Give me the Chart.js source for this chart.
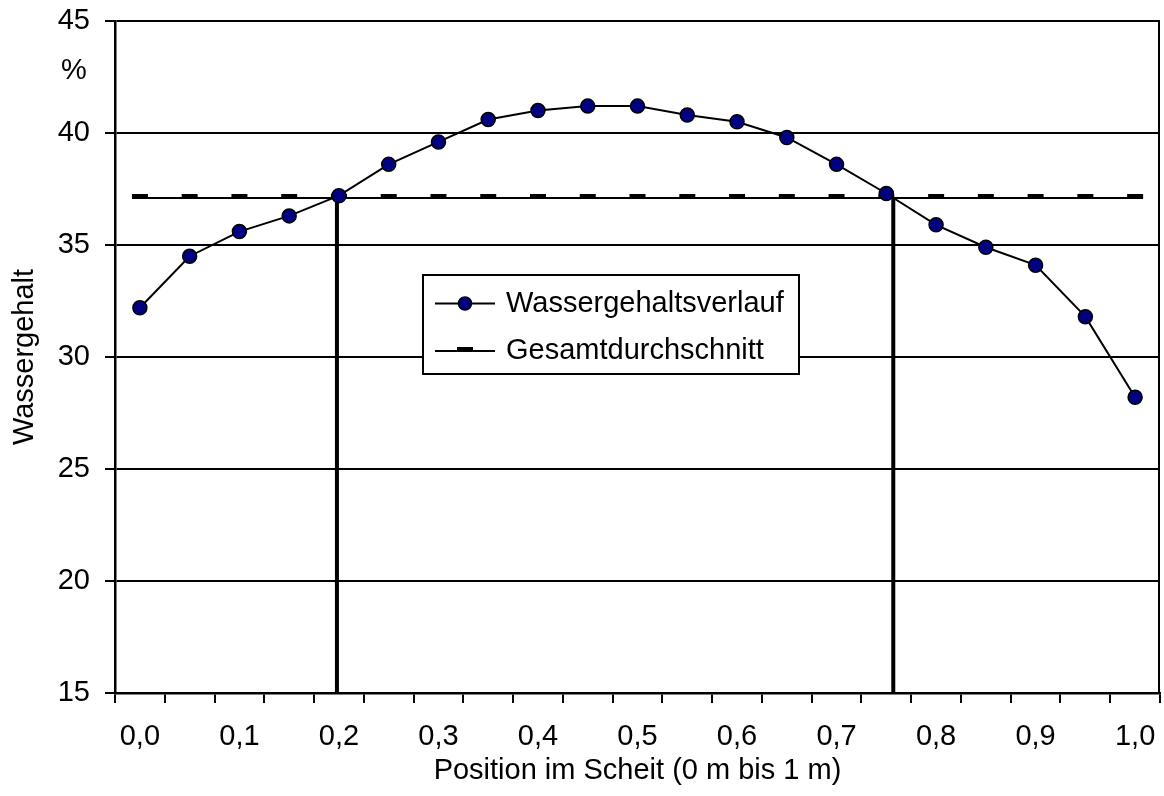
<!DOCTYPE html>
<html>
<head>
<meta charset="utf-8">
<script src="https://cdn.jsdelivr.net/npm/chart.js@4/dist/chart.umd.min.js"></script>
<style>
  html, body { margin: 0; padding: 0; background: #fff; }
  #wrap { width: 1164px; height: 796px; }
</style>
</head>
<body>
<div id="wrap"><canvas id="c" width="1164" height="796"></canvas></div>
<script>
// ---- data ----
const positions = [0, 0.05, 0.1, 0.15, 0.2, 0.25, 0.3, 0.35, 0.4, 0.45, 0.5, 0.55, 0.6, 0.65, 0.7, 0.75, 0.8, 0.85, 0.9, 0.95, 1.0];
const waterContent = [32.2, 34.5, 35.6, 36.3, 37.2, 38.6, 39.6, 40.6, 41.0, 41.2, 41.2, 40.8, 40.5, 39.8, 38.6, 37.3, 35.9, 34.9, 34.1, 31.8, 28.2];
const overallAverage = [37.1, 37.1, 37.1, 37.1, 37.1, 37.1, 37.1, 37.1, 37.1, 37.1, 37.1, 37.1, 37.1, 37.1, 37.1, 37.1, 37.1, 37.1, 37.1, 37.1, 37.1];
const crossings = [0.198, 0.757];
const xTickLabels = ['0,0', '0,1', '0,2', '0,3', '0,4', '0,5', '0,6', '0,7', '0,8', '0,9', '1,0'];
const yMin = 15, yMax = 45, yStep = 5;
const seriesLabels = ['Wassergehaltsverlauf', 'Gesamtdurchschnitt'];
const yTitle = 'Wassergehalt';
const yUnit = '%';
const xTitle = 'Position im Scheit (0 m bis 1 m)';

const FONT = 'Liberation Sans, Arial, sans-serif';
const FS = 29;

// dash-shaped marker image for the average series
const dash = document.createElement('canvas');
dash.width = 18; dash.height = 10;
(function () {
  const g = dash.getContext('2d');
  g.fillStyle = '#000';
  g.fillRect(1, 1, 16, 5);
})();

const seriesData = positions.map((x, i) => ({ x: x, y: waterContent[i] }));
const avgData = positions.map((x, i) => ({ x: x, y: overallAverage[i] }));
const crossSets = crossings.map(c => ({
  data: [{ x: c, y: yMin }, { x: c, y: overallAverage[0] }],
  borderColor: '#000',
  borderWidth: 4,
  pointRadius: 0,
  showLine: true,
  fill: false
}));

const extras = {
  id: 'extras',
  beforeDatasetsDraw(chart) {
    const { ctx, chartArea } = chart;
    ctx.save();
    ctx.strokeStyle = '#000';
    ctx.lineWidth = 2;
    ctx.beginPath();
    ctx.moveTo(chartArea.right - 1, chartArea.top);
    ctx.lineTo(chartArea.right - 1, chartArea.bottom);
    ctx.stroke();
    ctx.restore();
  },
  afterDraw(chart) {
    const { ctx, chartArea } = chart;
    ctx.save();
    // unit label
    ctx.fillStyle = '#000';
    ctx.font = FS + 'px ' + FONT;
    ctx.textAlign = 'center';
    ctx.textBaseline = 'middle';
    ctx.fillText(yUnit, chartArea.left - 41, chartArea.top + 50);

    // legend box
    const bx = 423, by = 275, bw = 376, bh = 99;
    ctx.fillStyle = '#fff';
    ctx.fillRect(bx, by, bw, bh);
    ctx.strokeStyle = '#000';
    ctx.lineWidth = 2;
    ctx.strokeRect(bx, by, bw, bh);

    const ds = chart.data.datasets;
    const rows = [303.5, 351];
    for (let i = 0; i < 2; i++) {
      const y = rows[i];
      ctx.strokeStyle = ds[i].borderColor;
      ctx.lineWidth = 2;
      ctx.beginPath();
      ctx.moveTo(435, y);
      ctx.lineTo(495, y);
      ctx.stroke();
      if (i === 0) {
        ctx.beginPath();
        ctx.arc(465, y, 6.5, 0, Math.PI * 2);
        ctx.fillStyle = ds[0].pointBackgroundColor;
        ctx.fill();
        ctx.lineWidth = 1.5;
        ctx.strokeStyle = '#000';
        ctx.stroke();
      } else {
        ctx.drawImage(dash, 465 - dash.width / 2, y - dash.height / 2);
      }
      ctx.fillStyle = '#000';
      ctx.font = FS + 'px ' + FONT;
      ctx.textAlign = 'left';
      ctx.textBaseline = 'middle';
      ctx.fillText(ds[i].label, 506, y);
    }
    ctx.restore();
  }
};

new Chart(document.getElementById('c'), {
  type: 'line',
  data: {
    datasets: [
      {
        label: seriesLabels[0],
        data: seriesData,
        borderColor: '#000',
        borderWidth: 2,
        pointBackgroundColor: '#000080',
        pointBorderColor: '#000',
        pointBorderWidth: 1.5,
        pointRadius: 7,
        tension: 0,
        fill: false
      },
      {
        label: seriesLabels[1],
        data: avgData,
        borderColor: '#000',
        borderWidth: 2,
        pointStyle: dash,
        pointRadius: 8,
        tension: 0,
        fill: false
      },
      ...crossSets
    ]
  },
  options: {
    responsive: false,
    animation: false,
    events: [],
    layout: { autoPadding: false, padding: { top: 21, right: 4, left: 0, bottom: 0 } },
    plugins: { legend: { display: false }, tooltip: { enabled: false } },
    scales: {
      x: {
        type: 'linear',
        min: -0.025,
        max: 1.025,
        afterBuildTicks: (scale) => { scale.ticks = positions.map(v => ({ value: v })); },
        afterFit: (scale) => {
          scale.height = 103;
          scale.paddingLeft = 0; scale.paddingRight = 0;
          scale.paddingTop = 0; scale.paddingBottom = 0;
        },
        ticks: {
          autoSkip: false,
          maxRotation: 0,
          minRotation: 0,
          padding: 17,
          color: '#000',
          font: { family: FONT, size: FS },
          callback: (v, i) => (i % 2 === 0 ? xTickLabels[i / 2] : '')
        },
        grid: {
          display: true,
          offset: true,
          drawOnChartArea: false,
          drawTicks: true,
          tickLength: 10,
          color: '#000',
          lineWidth: 2
        },
        border: { display: true, color: '#000', width: 2.5 },
        title: {
          display: true,
          text: xTitle,
          color: '#000',
          font: { family: FONT, size: FS },
          padding: { top: 0, bottom: 7.6 }
        }
      },
      y: {
        type: 'linear',
        min: yMin,
        max: yMax,
        afterFit: (scale) => {
          scale.width = 115;
          scale.paddingLeft = 0; scale.paddingRight = 0;
          scale.paddingTop = 0; scale.paddingBottom = 0;
        },
        ticks: {
          stepSize: yStep,
          padding: 15,
          color: '#000',
          font: { family: FONT, size: FS }
        },
        grid: {
          display: true,
          drawTicks: true,
          tickLength: 10,
          color: '#000',
          lineWidth: 2
        },
        border: { display: true, color: '#000', width: 2.5 },
        title: {
          display: true,
          text: yTitle,
          color: '#000',
          font: { family: FONT, size: FS },
          padding: { top: 7.6, bottom: 0 }
        }
      }
    }
  },
  plugins: [extras]
});
</script>
</body>
</html>
